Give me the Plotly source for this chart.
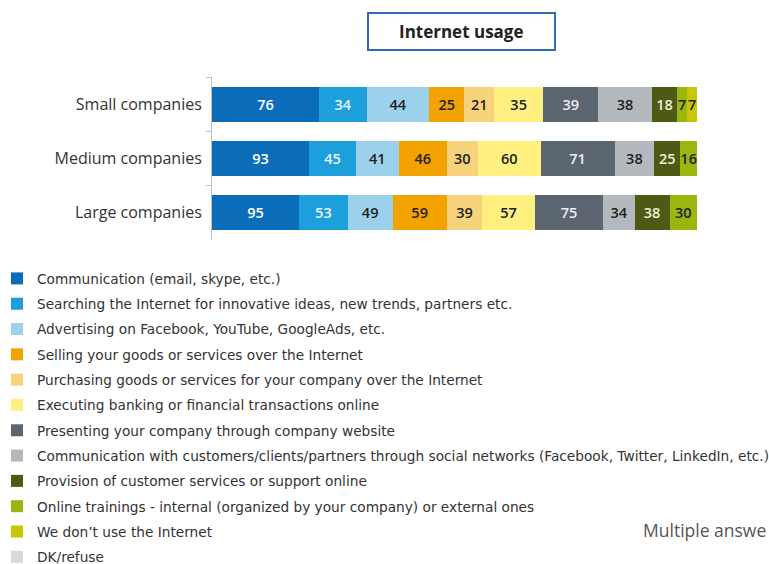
import plotly.graph_objects as go

categories = ["Small companies", "Medium companies", "Large companies"]

series_names = [
    "Communication (email, skype, etc.)",
    "Searching the Internet for innovative ideas, new trends, partners etc.",
    "Advertising on Facebook, YouTube, GoogleAds, etc.",
    "Selling your goods or services over the Internet",
    "Purchasing goods or services for your company over the Internet",
    "Executing banking or financial transactions online",
    "Presenting your company through company website",
    "Communication with customers/clients/partners through social networks (Facebook, Twitter, LinkedIn, etc.)",
    "Provision of customer services or support online",
    "Online trainings - internal (organized by your company) or external ones",
    "We don\u2019t use the Internet",
    "DK/refuse",
]

communication = [76, 93, 95]
searching = [34, 45, 53]
advertising = [44, 41, 49]
selling = [25, 46, 59]
purchasing = [21, 30, 39]
banking = [35, 60, 57]
website = [39, 71, 75]
social = [38, 38, 34]
support = [18, 25, 38]
trainings = [7, 16, 30]
no_internet = [7, 0, 0]
dk_refuse = [0, 0, 0]

series_values = [communication, searching, advertising, selling, purchasing, banking,
                 website, social, support, trainings, no_internet, dk_refuse]

colors = ["#0B6DBA", "#1C9FDB", "#9CD1EE", "#F2A300", "#F6D37A", "#FFF080",
          "#5C6670", "#B4B9BE", "#4D5A14", "#9DB60E", "#C8C600", "#D9D9D9"]
text_colors = ["#FFFFFF", "#EAF6FF", "#222222", "#222222", "#222222", "#222222",
               "#EEEEEE", "#222222", "#F0F0D8", "#222222", "#222222", "#222222"]

# pixel geometry helpers (plot area: x 212..697, y 77..240)
PL, PR, PT, PB = 212, 697, 77, 240


def px_x(x):
    return (x - PL) / (PR - PL)


def px_y(y):
    return 1 - (y - PT) / (PB - PT)


fig = go.Figure()
for i, (name, vals) in enumerate(zip(series_names, series_values)):
    fig.add_trace(go.Bar(
        y=categories, x=vals, name=name, orientation="h",
        marker=dict(color=colors[i], line=dict(width=0)),
        text=[str(v) if v else "" for v in vals],
        textposition="inside", insidetextanchor="middle",
        textfont=dict(family="Open Sans", size=14.5, color=text_colors[i], weight=600),
        legendgroup=f"g{i}",
    ))

fig.update_layout(
    width=769, height=564,
    paper_bgcolor="white", plot_bgcolor="white",
    barmode="stack", barnorm="percent", bargap=0.35,
    margin=dict(l=PL, r=769 - PR, t=PT, b=564 - PB, autoexpand=False),
    uniformtext=dict(minsize=14.5, mode="show"),
    xaxis=dict(visible=False, range=[0, 100]),
    yaxis=dict(autorange="reversed", showline=True, linecolor="#BFBFBF", linewidth=1,
               ticks="outside", tickson="boundaries", ticklen=5, tickcolor="#BFBFBF",
               ticklabelstandoff=6,
               tickfont=dict(family="Open Sans", size=16, color="#333333"),
               showgrid=False),
    showlegend=True,
    legend=dict(xref="paper", yref="paper", x=px_x(-3), y=px_y(263),
                xanchor="left", yanchor="top", traceorder="grouped", tracegroupgap=4.5,
                maxheight=320,
                font=dict(family="DejaVu Sans", size=13.7, color="#333333"),
                bgcolor="rgba(0,0,0,0)"),
    shapes=[dict(type="rect", xref="paper", yref="paper",
                 x0=px_x(368), x1=px_x(555), y0=px_y(50), y1=px_y(13),
                 line=dict(color="#2E6DB0", width=2), fillcolor="white")],
    annotations=[
        dict(text="<b>Internet usage</b>", xref="paper", yref="paper",
             x=px_x(461), y=px_y(31), showarrow=False,
             font=dict(family="Open Sans", size=17, color="#222222"),
             xanchor="center", yanchor="middle"),
        dict(text="Multiple answe", xref="paper", yref="paper",
             x=px_x(641), y=px_y(530), showarrow=False, xanchor="left", yanchor="middle",
             font=dict(family="Open Sans", size=17.5, color="#555555")),
    ],
)

fig.write_html("out.html", config={"displayModeBar": False},
               post_script="document.body.style.margin='0';")
